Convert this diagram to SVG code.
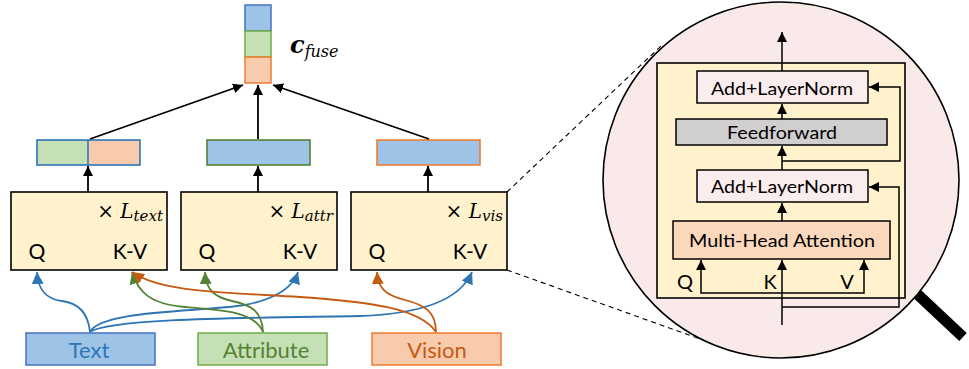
<svg xmlns="http://www.w3.org/2000/svg" width="969" height="369" viewBox="0 0 969 369">
  <style>
    .lbl { font-family: Lato, "Open Sans", "Liberation Sans", sans-serif; fill: #000; }
    .math { font-family: "DejaVu Serif", "Liberation Serif", serif; font-style: italic; fill: #000; }
    .blk { fill: #FFF2CC; stroke: #000; stroke-width: 1.6; }
    .ln { fill: none; stroke: #000; stroke-width: 1.8; }
    .thin { fill: none; stroke: #000; stroke-width: 1.5; }
    .dash { fill: none; stroke: #000; stroke-width: 1.1; stroke-dasharray: 5 4; }
    .cb { fill: none; stroke: #2E75B6; stroke-width: 1.8; }
    .cg { fill: none; stroke: #548235; stroke-width: 1.8; }
    .co { fill: none; stroke: #C55A11; stroke-width: 1.8; }
  </style>
  <defs>
    <marker id="ak" viewBox="0 0 10 10" refX="10" refY="5" markerWidth="10" markerHeight="10" markerUnits="userSpaceOnUse" orient="auto">
      <path d="M0,0 L10,5 L0,10 z" fill="#000"/>
    </marker>
    <marker id="ab" viewBox="0 0 10 10" refX="10" refY="5" markerWidth="12" markerHeight="12" markerUnits="userSpaceOnUse" orient="auto">
      <path d="M0,0 L10,5 L0,10 z" fill="#2E75B6"/>
    </marker>
    <marker id="ag" viewBox="0 0 10 10" refX="10" refY="5" markerWidth="12" markerHeight="12" markerUnits="userSpaceOnUse" orient="auto">
      <path d="M0,0 L10,5 L0,10 z" fill="#548235"/>
    </marker>
    <marker id="ao" viewBox="0 0 10 10" refX="10" refY="5" markerWidth="12" markerHeight="12" markerUnits="userSpaceOnUse" orient="auto">
      <path d="M0,0 L10,5 L0,10 z" fill="#C55A11"/>
    </marker>
  </defs>

  <!-- fused vector -->
  <g id="c-fuse">
    <rect x="245" y="5" width="26" height="26" fill="#9DC3E6" stroke="#4472C4" stroke-width="1.5"/>
    <rect x="245" y="31" width="26" height="26" fill="#C5E0B4" stroke="#70AD47" stroke-width="1.5"/>
    <rect x="245" y="57" width="26" height="26" fill="#F8CBAD" stroke="#ED7D31" stroke-width="1.5"/>
    <text x="290" y="53" class="math" font-size="24" font-weight="bold">c<tspan font-size="16" font-weight="normal" dy="4">fuse</tspan></text>
  </g>

  <!-- per-modality outputs -->
  <g id="out-text">
    <rect x="37" y="140" width="51" height="25" fill="#C5E0B4"/>
    <rect x="88" y="140" width="52" height="25" fill="#F8CBAD"/>
    <rect x="37" y="140" width="103" height="25" fill="none" stroke="#2E75B6" stroke-width="1.6"/>
    <line x1="88" y1="140" x2="88" y2="165" stroke="#2E75B6" stroke-width="1.6"/>
  </g>
  <g id="out-attr">
    <rect x="207" y="140" width="103" height="25" fill="#9DC3E6" stroke="#548235" stroke-width="1.6"/>
  </g>
  <g id="out-vis">
    <rect x="377" y="140" width="103" height="25" fill="#9DC3E6" stroke="#ED7D31" stroke-width="1.6"/>
  </g>

  <!-- cross-attention blocks -->
  <g id="block-text">
    <rect x="11" y="192" width="156" height="78" class="blk"/>
    <text x="163" y="218" text-anchor="end" class="math" font-size="20"><tspan font-style="normal">× </tspan>L<tspan font-size="15" dy="3">text</tspan></text>
    <text x="37" y="259" text-anchor="middle" class="lbl" font-size="21">Q</text>
    <text x="130" y="259" text-anchor="middle" class="lbl" font-size="21">K-V</text>
  </g>
  <g id="block-attr">
    <rect x="181" y="192" width="156" height="78" class="blk"/>
    <text x="333" y="218" text-anchor="end" class="math" font-size="20"><tspan font-style="normal">× </tspan>L<tspan font-size="15" dy="3">attr</tspan></text>
    <text x="207" y="259" text-anchor="middle" class="lbl" font-size="21">Q</text>
    <text x="300" y="259" text-anchor="middle" class="lbl" font-size="21">K-V</text>
  </g>
  <g id="block-vis">
    <rect x="351" y="192" width="156" height="78" class="blk"/>
    <text x="503" y="218" text-anchor="end" class="math" font-size="20"><tspan font-style="normal">× </tspan>L<tspan font-size="15" dy="3">vis</tspan></text>
    <text x="377" y="259" text-anchor="middle" class="lbl" font-size="21">Q</text>
    <text x="470" y="259" text-anchor="middle" class="lbl" font-size="21">K-V</text>
  </g>

  <!-- inputs -->
  <g id="in-text">
    <rect x="26" y="333" width="129" height="32" fill="#9DC3E6" stroke="#4472C4" stroke-width="1.5"/>
    <text x="89" y="358" text-anchor="middle" class="lbl" font-size="22" style="fill:#2E75B6">Text</text>
  </g>
  <g id="in-attr">
    <rect x="198" y="333" width="129" height="32" fill="#C5E0B4" stroke="#70AD47" stroke-width="1.5"/>
    <text x="266" y="358" text-anchor="middle" class="lbl" font-size="22" style="fill:#548235">Attribute</text>
  </g>
  <g id="in-vis">
    <rect x="372" y="333" width="129" height="32" fill="#F8CBAD" stroke="#ED7D31" stroke-width="1.5"/>
    <text x="437" y="358" text-anchor="middle" class="lbl" font-size="22" style="fill:#C55A11">Vision</text>
  </g>

  <!-- connectors -->
  <g id="connectors">
    <line x1="88" y1="192" x2="88" y2="166" class="ln" marker-end="url(#ak)"/>
    <line x1="258" y1="192" x2="258" y2="166" class="ln" marker-end="url(#ak)"/>
    <line x1="428" y1="192" x2="428" y2="166" class="ln" marker-end="url(#ak)"/>
    <line x1="90" y1="139" x2="243" y2="85" class="ln" marker-end="url(#ak)"/>
    <line x1="258" y1="139" x2="258" y2="85" class="ln" marker-end="url(#ak)"/>
    <line x1="429" y1="139" x2="273" y2="85" class="ln" marker-end="url(#ak)"/>

    <path d="M90,332 C88,312 78,303 62,301 C46,299 38,290 37,272" class="cb" marker-end="url(#ab)"/>
    <path d="M90,332 C100,310 200,312 245,305 C270,300 292,290 298,272" class="cb" marker-end="url(#ab)"/>
    <path d="M90,332 C110,318 250,318 360,316 C420,314 460,300 472,272" class="cb" marker-end="url(#ab)"/>

    <path d="M263,332 C262,310 250,305 232,301 C214,297 206,290 205,272" class="cg" marker-end="url(#ag)"/>
    <path d="M263,332 C255,312 225,310 185,307 C150,304 138,292 132,272" class="cg" marker-end="url(#ag)"/>

    <path d="M436,332 C436,312 425,305 405,300 C385,295 378,288 377,272" class="co" marker-end="url(#ao)"/>
    <path d="M436,332 C420,308 370,302 300,297 C220,292 160,292 132,272" class="co" marker-end="url(#ao)"/>

    <line x1="507" y1="192" x2="662" y2="45" class="dash"/>
    <line x1="507" y1="270" x2="703" y2="340" class="dash"/>
  </g>

  <!-- magnified layer detail -->
  <g id="magnifier">
    <line x1="914" y1="291" x2="963" y2="337" stroke="#000" stroke-width="11"/>
    <circle cx="781" cy="180" r="178" fill="#F9E9E9" stroke="#000" stroke-width="1.6"/>
  </g>
  <g id="layer-box">
    <rect x="657" y="63" width="248" height="235" fill="#FFF2CC" stroke="#000" stroke-width="1.6"/>
  </g>
  <g id="add-norm-2">
    <rect x="697" y="71" width="171" height="32" fill="#FBEDED" stroke="#000" stroke-width="1.5"/>
    <text x="782" y="95" text-anchor="middle" class="lbl" font-size="18" textLength="142" lengthAdjust="spacingAndGlyphs">Add+LayerNorm</text>
  </g>
  <g id="feedforward">
    <rect x="676" y="119" width="211" height="26" fill="#D0CECE" stroke="#000" stroke-width="1.5"/>
    <text x="782" y="139" text-anchor="middle" class="lbl" font-size="18" textLength="110" lengthAdjust="spacingAndGlyphs">Feedforward</text>
  </g>
  <g id="add-norm-1">
    <rect x="697" y="170" width="171" height="32" fill="#FBEDED" stroke="#000" stroke-width="1.5"/>
    <text x="782" y="193" text-anchor="middle" class="lbl" font-size="18" textLength="142" lengthAdjust="spacingAndGlyphs">Add+LayerNorm</text>
  </g>
  <g id="mha">
    <rect x="673" y="221" width="217" height="38" fill="#FBD7BC" stroke="#000" stroke-width="1.5"/>
    <text x="782" y="247" text-anchor="middle" class="lbl" font-size="18" textLength="186" lengthAdjust="spacingAndGlyphs">Multi-Head Attention</text>
  </g>
  <g id="qkv-labels">
    <text x="685" y="289" text-anchor="middle" class="lbl" font-size="20">Q</text>
    <text x="770" y="289" text-anchor="middle" class="lbl" font-size="20">K</text>
    <text x="847" y="289" text-anchor="middle" class="lbl" font-size="20">V</text>
  </g>
  <g id="layer-connectors">
    <line x1="782" y1="71" x2="782" y2="32" class="thin" marker-end="url(#ak)"/>
    <line x1="782" y1="119" x2="782" y2="104" class="thin" marker-end="url(#ak)"/>
    <line x1="782" y1="170" x2="782" y2="146" class="thin" marker-end="url(#ak)"/>
    <line x1="782" y1="221" x2="782" y2="203" class="thin" marker-end="url(#ak)"/>
    <line x1="782" y1="325" x2="782" y2="260" class="thin" marker-end="url(#ak)"/>
    <path d="M782,293 H701 V260" class="thin" marker-end="url(#ak)"/>
    <path d="M782,293 H864 V260" class="thin" marker-end="url(#ak)"/>
    <path d="M782,307 H899 V187 H869" class="thin" marker-end="url(#ak)"/>
    <path d="M782,161 H900 V87 H869" class="thin" marker-end="url(#ak)"/>
  </g>
</svg>
